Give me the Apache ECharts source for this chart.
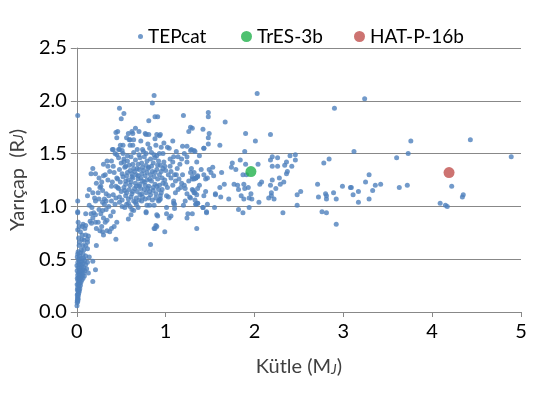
<!DOCTYPE html>
<html>
<head>
<meta charset="utf-8">
<script src="https://cdn.jsdelivr.net/npm/echarts@6/dist/echarts.min.js"></script>
<style>
  html, body { margin: 0; padding: 0; background: #fff; }
  #chart { width: 549px; height: 393px; }
</style>
</head>
<body>
<div id="chart"></div>
<script>
// mass (MJ), radius (RJ)
var lowMass = [
  [0.002,0.06],[0.004,0.09],[0.006,0.11],[0.01,0.10],[0.008,0.13],[0.012,0.14],[0.015,0.12],[0.005,0.16],[0.01,0.17],[0.018,0.16],
  [0.022,0.18],[0.014,0.20],[0.006,0.21],[0.02,0.21],[0.028,0.2],[0.01,0.23],[0.025,0.24],[0.033,0.22],[0.004,0.26],[0.016,0.26],
  [0.03,0.27],[0.04,0.25],[0.02,0.28],[0.045,0.28],[0.012,0.3],[0.028,0.3],[0.055,0.3],[0.006,0.32],[0.036,0.32],[0.02,0.33],
  [0.05,0.33],[0.07,0.32],[0.01,0.35],[0.03,0.35],[0.042,0.36],[0.062,0.35],[0.085,0.34],[0.018,0.37],[0.052,0.38],[0.075,0.37],
  [0.004,0.39],[0.027,0.39],[0.04,0.4],[0.065,0.4],[0.09,0.39],[0.11,0.41],[0.015,0.42],[0.035,0.42],[0.055,0.43],[0.08,0.42],
  [0.21,0.4],[0.13,0.37],[0.18,0.29],[0.002,0.44],[0.024,0.45],[0.046,0.45],[0.07,0.46],[0.1,0.45],[0.012,0.47],[0.038,0.48],
  [0.06,0.48],[0.09,0.49],[0.12,0.47],[0.18,0.48],[0.02,0.5],[0.05,0.51],[0.075,0.51],[0.005,0.52],[0.03,0.53],[0.1,0.53],
  [0.14,0.52],[0.01,0.55],[0.04,0.56],[0.07,0.55],[0.015,0.57],[0.05,0.59],[0.026,0.63],[0.08,0.59],[0.06,0.69],[0.08,0.68],
  [0.07,0.63],[0.10,0.63],[0.12,0.60],[0.06,0.73],[0.10,0.73],[0.13,0.72],[0.12,0.69],[0.12,0.66],[0.22,0.63],[0.015,0.85],
  [0.026,0.81],[0.07,0.83],[0.10,0.82],[0.09,0.79],[0.06,0.81],[0.01,0.95],[0.10,0.93],[0.01,0.94],[0.01,1.05],[0.01,1.86],
  [0.03,0.66],[0.02,0.7],[0.04,0.76],[0.01,0.78]
];
var risingBranch = [
  [0.19,0.94],[0.21,0.92],[0.18,0.89],[0.15,0.86],[0.165,0.84],[0.21,0.85],[0.24,0.85],[0.25,0.97],[0.29,0.96],[0.33,0.97],
  [0.30,0.89],[0.34,0.87],[0.32,0.85],[0.22,0.79],[0.28,0.81],[0.26,0.77],[0.29,0.76],[0.30,0.73],[0.34,0.77],[0.37,0.76],
  [0.39,0.79],[0.42,0.81],[0.44,0.69],[0.45,0.85],[0.21,1.05],[0.25,1.07],[0.29,1.04],[0.31,1.02],[0.33,1.05],[0.17,0.99],
  [0.14,1.01],[0.27,0.93],[0.38,0.91],[0.41,0.95],[0.36,1.0],[0.43,1.02],[0.16,0.93],
  [0.18,1.36],[0.16,1.31],[0.21,1.31],[0.30,1.29],[0.32,1.30],[0.28,1.23],[0.27,1.19],[0.26,1.18],[0.29,1.15],[0.24,1.13],
  [0.18,1.13],[0.39,1.19],[0.40,1.23],[0.33,1.12],[0.36,1.10],[0.41,1.11],[0.44,1.08],[0.31,1.07],[0.39,1.05],[0.45,1.27],
  [0.44,1.19],[0.46,1.18],[0.22,1.22],[0.35,1.25],[0.37,1.33],[0.42,1.32],[0.25,1.27],[0.14,1.16],[0.12,1.10],[0.20,1.08],
  [0.35,1.38],[0.30,1.40]
];
var lowerEdge = [
  [0.58,0.88],[0.61,0.92],[0.64,0.96],[0.78,0.95],[0.78,0.94],[0.87,0.79],[0.89,0.82],[0.83,0.64],[0.88,0.79],[0.90,0.81],
  [0.91,0.91],[0.90,0.92],[0.99,0.76],[1.04,0.89],[1.06,0.91],[1.01,0.93],[1.24,0.89],[1.25,0.93],[1.35,0.79],[0.51,1.00],
  [0.54,0.99],[0.56,1.02],[0.58,1.03],[0.60,1.00],[0.66,1.04],[0.67,1.02],[0.69,0.99],[0.79,1.01],[0.82,1.01],[0.87,1.01],
  [0.92,1.05],[1.01,0.99],[1.10,0.98],[1.09,1.03],[1.10,1.02],[1.20,1.01],[1.30,0.93],[1.34,1.02],[1.36,1.03],[1.42,0.99],
  [1.46,0.95],[1.47,1.02],[1.55,0.99],[0.94,1.07],[0.48,1.04],[0.73,1.05],[0.62,0.97]
];
var upperCloud = [
  [0.87,2.05],[0.85,1.98],[0.48,1.93],[0.53,1.88],[0.50,1.83],[0.88,1.85],[0.91,1.85],[0.81,1.81],[1.20,1.86],[1.30,1.74],
  [1.26,1.71],[1.42,1.73],[0.66,1.74],[0.70,1.71],[0.62,1.71],[0.58,1.69],[0.63,1.69],[0.46,1.71],[0.44,1.70],[0.45,1.65],
  [0.78,1.68],[0.81,1.68],[0.90,1.68],[0.93,1.67],[0.88,1.64],[0.94,1.68],[0.60,1.63],[0.64,1.63],[0.49,1.58],[0.52,1.58],
  [0.48,1.54],[0.51,1.53],[0.60,1.58],[0.63,1.58],[0.68,1.54],[0.74,1.54],[0.82,1.55],[0.89,1.58],[0.95,1.56],[0.84,1.51],
  [0.87,1.49],[0.90,1.48],[0.93,1.50],[0.45,1.49],[0.40,1.54],[0.43,1.50],[0.34,1.43],[0.39,1.43],[0.41,1.38],[1.02,1.56],
  [1.04,1.55],[1.19,1.57],[1.24,1.57],[1.29,1.54],[1.32,1.53],[1.43,1.55],[0.97,1.50],[1.09,1.47],[1.18,1.45],[1.21,1.50],
  [1.24,1.47],[1.08,1.42],[1.16,1.40],[1.24,1.42],[0.99,1.38],[0.97,1.36],[0.95,1.33],[1.06,1.33],[1.10,1.30],[1.06,1.27],
  [1.12,1.30],[1.03,1.30],[1.11,1.24],[1.19,1.30],[1.29,1.36],[1.32,1.32],[1.34,1.27],[1.30,1.26],[1.36,1.28],[1.43,1.30],
  [1.45,1.26],[1.18,1.22],[1.21,1.20],[1.17,1.18],[1.22,1.17],[1.00,1.21],[1.02,1.18],[0.96,1.16],[0.94,1.10],[1.11,1.13],
  [1.01,1.10],[1.03,1.09],[1.24,1.12],[1.27,1.09],[1.32,1.13],[1.35,1.11],[1.30,1.16],[1.43,1.10],[1.09,1.05],[1.22,1.05],
  [1.33,1.06],[0.41,1.54],[0.47,1.54],[0.59,1.63],[0.77,1.69],[0.80,1.59],[1.28,1.75]
];
var denseCore = [
  [0.47,1.46],[0.50,1.41],[0.53,1.45],[0.55,1.38],[0.57,1.43],[0.61,1.47],[0.63,1.40],[0.66,1.44],[0.68,1.36],[0.71,1.46],
  [0.73,1.41],[0.76,1.47],[0.79,1.43],[0.81,1.37],[0.83,1.45],[0.86,1.41],[0.88,1.46],[0.92,1.43],[0.94,1.39],[0.48,1.35],
  [0.51,1.31],[0.54,1.37],[0.56,1.29],[0.60,1.34],[0.62,1.28],[0.65,1.33],[0.67,1.30],[0.70,1.35],[0.72,1.27],[0.75,1.34],
  [0.77,1.29],[0.80,1.36],[0.82,1.26],[0.85,1.33],[0.87,1.28],[0.90,1.35],[0.93,1.30],[0.46,1.26],[0.49,1.23],[0.52,1.28],
  [0.55,1.21],[0.58,1.25],[0.60,1.20],[0.63,1.27],[0.66,1.22],[0.69,1.26],[0.71,1.21],[0.74,1.24],[0.77,1.20],[0.79,1.25],
  [0.81,1.19],[0.84,1.24],[0.88,1.21],[0.91,1.26],[0.93,1.20],[0.47,1.17],[0.50,1.14],[0.53,1.18],[0.56,1.13],[0.59,1.16],
  [0.62,1.12],[0.65,1.17],[0.68,1.14],[0.70,1.19],[0.73,1.12],[0.76,1.16],[0.78,1.13],[0.80,1.17],[0.83,1.11],[0.86,1.15],
  [0.89,1.12],[0.92,1.16],[0.48,1.09],[0.51,1.06],[0.55,1.10],[0.58,1.07],[0.61,1.09],[0.64,1.05],[0.67,1.08],[0.70,1.06],
  [0.74,1.09],[0.77,1.07],[0.81,1.08],[0.85,1.06],[0.89,1.08],[0.93,1.06],[0.52,1.50],[0.57,1.48],[0.64,1.51],[0.70,1.49],
  [0.75,1.52],[0.78,1.50],[0.53,1.42],[0.59,1.39],[0.64,1.36],[0.69,1.40],[0.74,1.37],[0.78,1.39],[0.84,1.38],[0.91,1.39],
  [0.57,1.32],[0.62,1.31],[0.69,1.29],[0.73,1.31],[0.79,1.32],[0.83,1.30],[0.88,1.32],[0.96,1.27],[0.55,1.24],[0.61,1.23],
  [0.67,1.19],[0.72,1.17],[0.76,1.23],[0.86,1.18],[0.90,1.19],[0.97,1.22],[0.54,1.15],[0.63,1.14],[0.71,1.11],[0.82,1.14],
  [0.95,1.13],[0.99,1.25],[1.0,1.34],[0.98,1.42],[1.05,1.38],[1.13,1.36],[1.15,1.26],[1.08,1.20],[1.14,1.16],[1.26,1.24],
  [1.38,1.20],[1.40,1.35],[1.05,1.45],[1.14,1.47],[1.35,1.42],[1.38,1.48],[1.12,1.52],[0.98,1.60],[1.08,1.62],[0.72,1.62],
  [0.56,1.65]
];
var midMass = [
  [2.03,2.07],[2.90,1.93],[1.48,1.89],[1.48,1.85],[1.67,1.80],[1.49,1.69],[1.90,1.69],[2.18,1.68],[1.48,1.65],[2.01,1.62],
  [1.48,1.59],[1.61,1.58],[1.43,1.55],[1.28,1.53],[1.33,1.52],[1.89,1.52],[2.40,1.48],[2.46,1.49],[2.20,1.47],[2.18,1.44],
  [2.26,1.46],[2.46,1.44],[1.84,1.44],[2.84,1.45],[1.75,1.41],[1.74,1.37],[1.90,1.40],[2.04,1.40],[2.36,1.42],[2.34,1.39],
  [2.78,1.41],[2.20,1.38],[2.26,1.38],[2.42,1.38],[1.53,1.37],[1.49,1.35],[1.51,1.32],[1.79,1.35],[1.63,1.32],[2.37,1.33],
  [2.36,1.31],[1.28,1.32],[1.30,1.28],[1.87,1.30],[1.91,1.30],[1.54,1.29],[1.36,1.29],[1.34,1.27],[1.32,1.26],[1.47,1.27],
  [2.28,1.27],[2.20,1.25],[2.33,1.23],[2.29,1.21],[2.08,1.23],[2.06,1.21],[1.66,1.21],[1.77,1.21],[1.81,1.20],[1.88,1.21],
  [2.18,1.20],[1.61,1.18],[1.82,1.16],[1.89,1.17],[1.93,1.18],[2.24,1.17],[1.36,1.17],[1.45,1.14],[1.31,1.15],[1.33,1.13],
  [2.52,1.14],[2.48,1.11],[1.96,1.12],[2.19,1.13],[2.19,1.10],[2.16,1.08],[1.56,1.12],[1.56,1.11],[1.62,1.09],[1.85,1.10],
  [1.94,1.08],[1.97,1.07],[1.71,1.07],[1.88,1.07],[2.22,1.07],[1.28,1.08],[2.05,1.04],[1.34,1.02],[1.36,1.03],[2.48,1.01],
  [1.42,0.99],[1.94,0.99],[1.82,0.97],[1.87,0.94],[1.46,0.94],[2.32,0.94],[2.71,1.21],[2.72,1.09],[2.80,1.12],[2.81,1.10],
  [2.81,1.07],[2.89,1.13],[2.92,1.07],[2.99,1.19],[3.08,1.18],[2.76,0.95],[2.81,0.94],[2.92,0.83]
];
var highMass = [
  [3.24,2.02],[3.76,1.62],[4.43,1.63],[3.12,1.52],[3.60,1.46],[3.73,1.50],[4.89,1.47],[3.29,1.30],[3.25,1.23],[3.09,1.18],
  [3.36,1.20],[3.42,1.21],[3.33,1.15],[3.17,1.14],[3.11,1.11],[3.63,1.18],[3.72,1.20],[3.29,1.07],[3.17,1.04],[4.22,1.19],
  [4.35,1.11],[4.34,1.09],[4.09,1.03],[4.15,1.01],[4.17,1.00]
];
var tres3b = [[1.96, 1.33]];
var hatp16b = [[4.19, 1.32]];
var xTicks = [0, 1, 2, 3, 4, 5];
var yTicks = [0, 0.5, 1, 1.5, 2, 2.5];

var tepcat = lowMass.concat(risingBranch, lowerEdge, upperCloud, denseCore, midMass, highMass);

var font = "Lato, 'Open Sans', sans-serif";
var legendText = { fontFamily: font, fontSize: 19, color: "#000" };

var option = {
  animation: false,
  backgroundColor: "#fff",
  textStyle: { fontFamily: font },
  legend: [
    { data: ["TEPcat"], left: 133, top: 22, icon: "circle", itemWidth: 5, itemHeight: 5, itemGap: 0, textStyle: legendText },
    { data: ["TrES-3b"], left: 236, top: 22, icon: "circle", itemWidth: 11, itemHeight: 11, itemGap: 0, textStyle: legendText },
    { data: ["HAT-P-16b"], left: 349, top: 22, icon: "circle", itemWidth: 11, itemHeight: 11, itemGap: 0, textStyle: legendText }
  ],
  grid: { left: 76, right: 28, top: 48, bottom: 81, containLabel: false },
  xAxis: {
    type: "value",
    min: xTicks[0],
    max: xTicks[xTicks.length - 1],
    interval: 1,
    name: "Kütle (M{j|J})",
    nameLocation: "middle",
    nameGap: 45,
    nameTextStyle: {
      fontFamily: font, fontSize: 20, color: "#404040",
      rich: { j: { fontFamily: font, fontSize: 14, fontStyle: "italic", color: "#404040", padding: [4, 0, 0, 0] } }
    },
    axisLine: { show: true, lineStyle: { color: "#888", width: 1 } },
    axisTick: { show: true, inside: false, length: 5, lineStyle: { color: "#888" } },
    axisLabel: { fontFamily: font, fontSize: 20, color: "#000", margin: 10 },
    splitLine: { show: false }
  },
  yAxis: {
    type: "value",
    min: yTicks[0],
    max: yTicks[yTicks.length - 1],
    interval: 0.5,
    name: "Yarıçap  (R{j|J})",
    nameLocation: "middle",
    nameGap: 46,
    nameTextStyle: {
      fontFamily: font, fontSize: 20, color: "#404040",
      rich: { j: { fontFamily: font, fontSize: 14, fontStyle: "italic", color: "#404040" } }
    },
    axisLine: { show: true, lineStyle: { color: "#888", width: 1 } },
    axisTick: { show: true, inside: false, length: 6, lineStyle: { color: "#888" } },
    axisLabel: {
      fontFamily: font, fontSize: 20, color: "#000", margin: 10,
      formatter: function (v) { return v.toFixed(1); }
    },
    splitLine: { show: true, lineStyle: { color: "#888", width: 1 } }
  },
  series: [
    { name: "TEPcat", type: "scatter", data: tepcat, symbolSize: 5, itemStyle: { color: "#4f81bd" }, z: 2 },
    { name: "TrES-3b", type: "scatter", data: tres3b, symbolSize: 11, itemStyle: { color: "#22b14c" }, z: 3 },
    { name: "HAT-P-16b", type: "scatter", data: hatp16b, symbolSize: 11, itemStyle: { color: "#c0504d" }, z: 3 }
  ]
};

var chart = echarts.init(document.getElementById("chart"));
chart.setOption(option);
</script>
</body>
</html>
